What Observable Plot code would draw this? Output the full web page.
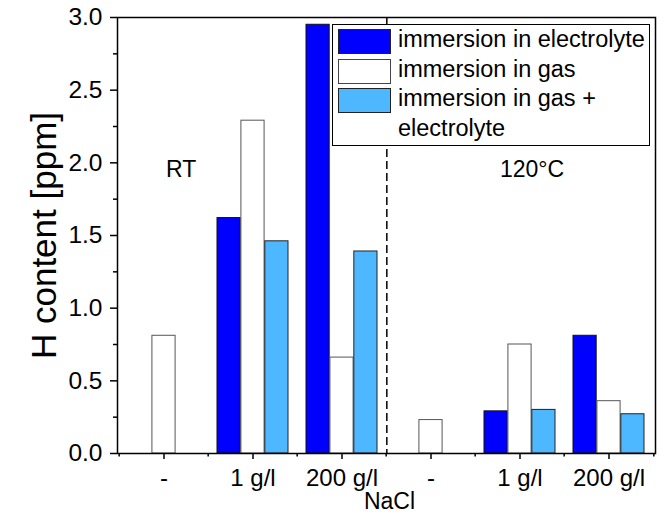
<!DOCTYPE html>
<html><head><meta charset="utf-8">
<script src="https://cdn.jsdelivr.net/npm/d3@7"></script>
<script src="https://cdn.jsdelivr.net/npm/@observablehq/plot@0.6"></script>
<style>
body{margin:0;background:#fff;font-family:"Liberation Sans",Arial,sans-serif;}
#wrap{position:relative;width:667px;height:515px;}
#legend{position:absolute;left:332px;top:24px;width:318px;height:122px;box-sizing:border-box;border:1px solid #000;background:#fff;font-size:23.5px;color:#000;}
.row{position:relative;height:29.5px;line-height:29.5px;padding-left:65px;white-space:nowrap;}
.sw{position:absolute;left:5px;top:4px;width:53px;height:25px;box-sizing:border-box;border:1px solid #333;}
</style></head><body><div id="wrap"></div>
<script>
const groups = ["RT-","RT1","RT200","HT-","HT1","HT200"];
const groupLabels = ["-","1 g/l","200 g/l","-","1 g/l","200 g/l"];
const series = ["immersion in electrolyte","immersion in gas","immersion in gas + electrolyte"];
const electrolyte = [null,1.62,2.95,null,0.29,0.81];
const gas = [0.81,2.29,0.66,0.23,0.75,0.36];
const gasElectrolyte = [null,1.46,1.39,null,0.30,0.27];
const colors = ["#0000ff","#ffffff","#4db8ff"];
const strokes = ["#111111","#555555","#222222"];
const yTicks = [0,0.5,1,1.5,2,2.5,3];
const yMinor = [0.25,0.75,1.25,1.75,2.25,2.75];
const xTitle = "NaCl";
const yTitle = "H content [ppm]";

const seriesValues = [electrolyte, gas, gasElectrolyte];
const rows = [];
groups.forEach((g, i) => seriesValues.forEach((arr, s) => {
  if (arr[i] != null) rows.push({group: g, series: series[s], s, value: arr[i]});
}));

const W = 667, H = 515, mL = 117, mR = 12, mT = 17, mB = 62;
const step = (W - mL - mR) / groups.length;
const bw = step * 0.8 / 3;

const bars = series.map((name, s) => Plot.barY(rows.filter(d => d.s === s), {
  x: "group", y: "value", fill: colors[s], stroke: strokes[s], strokeWidth: 1,
  insetLeft: s * bw, insetRight: (2 - s) * bw
}));

const chart = Plot.plot({
  width: W, height: H, marginLeft: mL, marginRight: mR, marginTop: mT, marginBottom: mB,
  style: {fontFamily: "Liberation Sans, Arial, sans-serif", fontSize: "23px", background: "transparent", color: "#000", overflow: "visible"},
  x: {domain: groups, paddingInner: 0.2, paddingOuter: 0.1},
  y: {domain: [0, 3]},
  marks: [
    ...bars,
    Plot.ruleX(["RT200"], {dx: step / 2, stroke: "#000", strokeWidth: 1.5, strokeDasharray: "8,4"}),
    Plot.axisY(yTicks, {tickSize: 7, tickPadding: 8, tickFormat: d3.format(".1f"), fontSize: 24.5, label: null, strokeWidth: 1.5}),
    Plot.axisY(yMinor, {tickSize: 4, tickFormat: () => "", label: null, strokeWidth: 1.5}),
    Plot.axisX(groups, {tickSize: 6, tickPadding: 9, tickFormat: d => groupLabels[groups.indexOf(d)], fontSize: 24, label: null, strokeWidth: 1.5}),
    Plot.axisX(groups, {tickSize: 3.5, tickFormat: () => "", dx: -step / 2, label: null, strokeWidth: 1.5}),
    Plot.axisX([groups[groups.length - 1]], {tickSize: 3.5, tickFormat: () => "", dx: step / 2, label: null, strokeWidth: 1.5}),
    Plot.frame({stroke: "#000", strokeWidth: 1.5}),
    Plot.text([yTitle], {frameAnchor: "left", textAnchor: "middle", rotate: -90, dx: -62, fontSize: 35, lineAnchor: "bottom"}),
    Plot.text([xTitle], {frameAnchor: "bottom", dx: 3, dy: 55, fontSize: 23, lineAnchor: "bottom"}),
    Plot.text(["RT"], {x: ["RT-"], y: [1.9], textAnchor: "start", dx: 2, fontSize: 23, lineAnchor: "bottom"}),
    Plot.text(["120°C"], {x: ["HT1"], y: [1.9], textAnchor: "start", dx: -20, fontSize: 23, lineAnchor: "bottom"})
  ]
});
const wrap = document.getElementById("wrap");
wrap.appendChild(chart);

const legend = document.createElement("div");
legend.id = "legend";
const legendTexts = ["immersion in electrolyte", "immersion in gas", "immersion in gas +<br>electrolyte"];
legendTexts.forEach((t, s) => {
  const row = document.createElement("div");
  row.className = "row";
  row.innerHTML = `<span class="sw" style="background:${colors[s]};border-color:${s===1?'#444':'#222'}"></span>${t}`;
  legend.appendChild(row);
});
wrap.appendChild(legend);
</script></body></html>
